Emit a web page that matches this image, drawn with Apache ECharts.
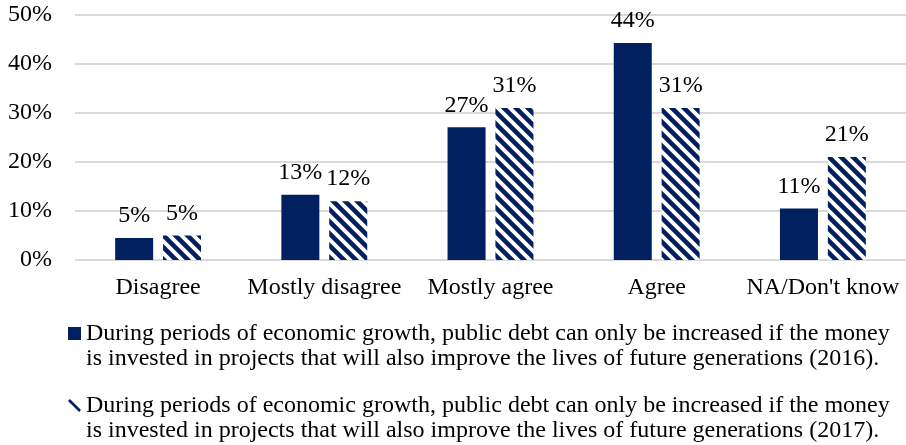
<!DOCTYPE html>
<html>
<head>
<meta charset="utf-8">
<script src="https://cdn.jsdelivr.net/npm/echarts@6/dist/echarts.min.js"></script>
<style>
  html, body { margin: 0; padding: 0; background: #ffffff; }
  #chart { width: 906px; height: 445px; }
</style>
</head>
<body>
<div id="chart"></div>
<script>
// Survey answers, share of respondents (%)
const categories = ['Disagree', 'Mostly disagree', 'Mostly agree', 'Agree', "NA/Don't know"];
const values2016 = [4.5, 13.3, 27.1, 44.3, 10.5];
const values2017 = [5.0, 12.0, 31.0, 31.0, 21.0];
const seriesNames = [
  'During periods of economic growth, public debt can only be increased if the money\nis invested in projects that will also improve the lives of future generations (2016).',
  'During periods of economic growth, public debt can only be increased if the money\nis invested in projects that will also improve the lives of future generations (2017).'
];
const yTicks = { min: 0, max: 50, interval: 10 };

const NAVY = '#002060';
const FONT = '"Liberation Serif", "Times New Roman", serif';
const FS = 24;

// Diagonal "\" stripes tile for the second series
function stripeTile() {
  const s = 12;
  const c = document.createElement('canvas');
  c.width = s; c.height = s;
  const ctx = c.getContext('2d');
  ctx.fillStyle = '#ffffff';
  ctx.fillRect(0, 0, s, s);
  ctx.strokeStyle = NAVY;
  ctx.lineWidth = 4.6;
  ctx.lineCap = 'square';
  [-s, 0, s].forEach(function (dx) {
    ctx.beginPath();
    ctx.moveTo(dx - 2, -2);
    ctx.lineTo(dx + s + 2, s + 2);
    ctx.stroke();
  });
  return c;
}

const chart = echarts.init(document.getElementById('chart'), null, { renderer: 'canvas' });

const labelCfg = {
  show: true,
  position: 'top',
  distance: 10,
  color: '#000',
  fontFamily: FONT,
  fontSize: FS,
  formatter: function (p) { return Math.round(p.value) + '%'; }
};

chart.setOption({
  animation: false,
  backgroundColor: '#ffffff',
  textStyle: { fontFamily: FONT },
  grid: { left: 75, right: -3, top: 15, bottom: 185 },
  xAxis: {
    type: 'category',
    data: categories,
    axisLine: { show: false },
    axisTick: { show: false },
    axisLabel: { color: '#000', fontFamily: FONT, fontSize: FS, margin: 16, interval: 0 }
  },
  yAxis: {
    type: 'value',
    min: yTicks.min,
    max: yTicks.max,
    interval: yTicks.interval,
    axisLine: { show: false },
    axisTick: { show: false },
    axisLabel: {
      color: '#000', fontFamily: FONT, fontSize: FS, margin: 23,
      padding: [4, 0, 0, 0], formatter: '{value}%'
    },
    splitLine: { lineStyle: { color: '#d9d9d9', width: 2 } }
  },
  legend: {
    orient: 'vertical',
    left: 68,
    top: 296,
    padding: 0,
    itemWidth: 13,
    itemHeight: 13,
    itemGap: -3,
    textStyle: { color: '#000', fontFamily: FONT, fontSize: FS, lineHeight: 25 },
    // leading blank line keeps the marker level with the first text line
    formatter: function (name) { return '\n' + name; },
    data: [
      { name: seriesNames[0], icon: 'rect' },
      { name: seriesNames[1], icon: 'path://M0,1.6 L1.6,0 L11,9.4 L9.4,11 Z', itemStyle: { color: NAVY } }
    ]
  },
  series: [
    {
      name: seriesNames[0],
      type: 'bar',
      data: values2016,
      barWidth: 38,
      barGap: '26%',
      itemStyle: { color: NAVY },
      label: labelCfg
    },
    {
      name: seriesNames[1],
      type: 'bar',
      data: values2017,
      barWidth: 38,
      itemStyle: { color: { image: stripeTile(), repeat: 'repeat' } },
      label: labelCfg
    }
  ]
});
</script>
</body>
</html>
